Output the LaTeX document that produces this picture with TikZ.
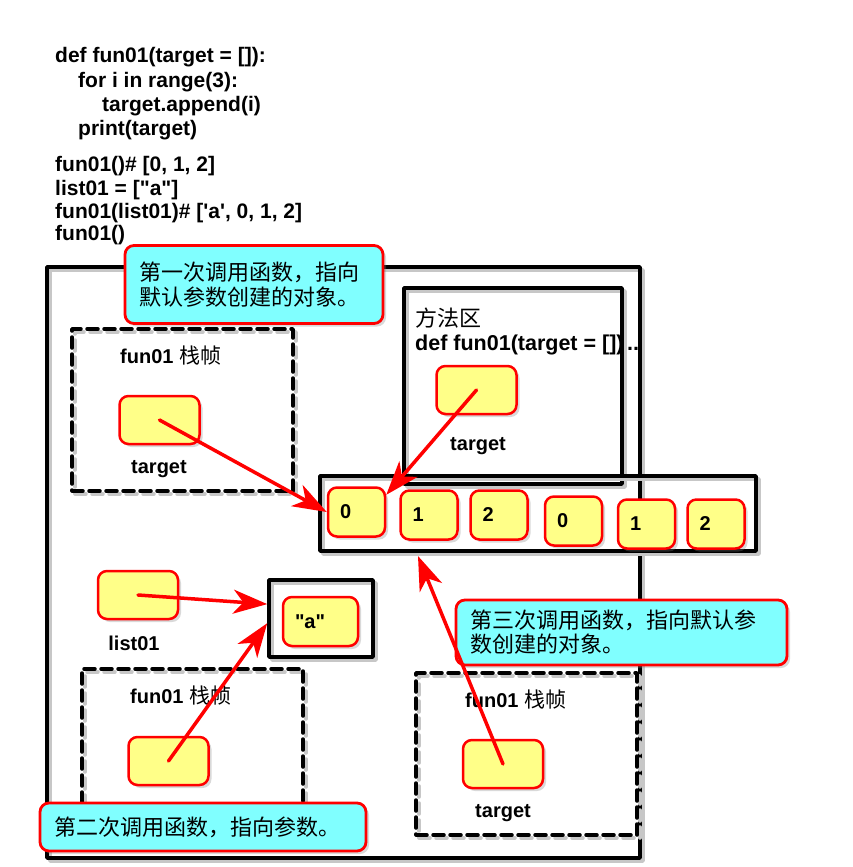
\documentclass[tikz,border=0pt]{standalone}
\usepackage{fontspec}
\newfontfamily\codefont{Liberation Sans}
\newfontfamily\cjk{Noto Sans CJK SC}
\usetikzlibrary{arrows.meta,shadows,calc}
\definecolor{varfill}{HTML}{FFFF88}
\definecolor{tipfill}{HTML}{80FFFF}
\tikzset{
  lineshadow/.style={preaction={draw=black!22, transform canvas={shift={(3pt,-3pt)}}}},
  memframe/.style={draw, line width=3.5pt, lineshadow},
  stackframe/.style={memframe, dash pattern=on 11pt off 6pt},
  varbox/.style={draw=red, line width=2.5pt, fill=varfill, rounded corners=9pt,
    minimum width=80pt, minimum height=48pt,
    drop shadow={shadow xshift=3pt, shadow yshift=-3pt, opacity=.3}},
  cellbox/.style={varbox, minimum width=57pt, minimum height=49pt, inner xsep=12pt,
    text width=33pt, align=left, font=\codefont\fontsize{20}{24}\selectfont\bfseries},
  tipbox/.style={draw=red, line width=2.8pt, fill=tipfill, rounded corners=9pt,
    align=left, inner xsep=14pt, inner ysep=0pt,
    drop shadow={shadow xshift=3pt, shadow yshift=-3pt, opacity=.3}},
  lbl/.style={font=\codefont\fontsize{20}{24}\selectfont\bfseries, inner sep=0pt},
  zh/.style={font=\cjk\fontsize{22}{25}\selectfont},
  ptr/.style={-{Stealth[length=34pt,width=24pt,inset=10pt]}, red, line width=3.5pt}
}
\newcommand\zhframe{{\cjk\mdseries\fontsize{21}{24}\selectfont 栈帧}}
\begin{document}
\begin{tikzpicture}[x=1pt, y=-1pt, line join=round, line cap=round]
  \useasboundingbox (0,0) rectangle (853,867);
  % the source code
  \foreach \t/\x/\y [count=\i] in {{def fun01(target = []):}/55/63, {for i in range(3):}/78/87,
      {target.append(i)}/102/111, {print(target)}/78/135, {fun01()\# [0, 1, 2]}/55/171,
      {list01 = ["a"]}/55/195, {fun01(list01)\# ['a', 0, 1, 2]}/55/218, {fun01()}/55/240}
    \node[lbl, font=\codefont\fontsize{21}{24}\selectfont\bfseries, anchor=base west] (code\i) at (\x,\y) {\t};
  % memory
  \node[memframe, minimum width=593pt, minimum height=591pt] (heap) at (343.5,562.5) {};
  \node[memframe, minimum width=218pt, minimum height=196pt] (method) at (513,386) {};
  \node[stackframe, minimum width=221pt, minimum height=162pt] (frame1) at (182.5,410) {};
  \node[stackframe, minimum width=221pt, minimum height=166pt] (frame2) at (192.5,752) {};
  \node[stackframe, minimum width=221pt, minimum height=162pt] (frame3) at (526.5,754) {};
  \node[memframe, minimum width=436pt, minimum height=75pt] (arr) at (538,513.5) {};
  \node[memframe, minimum width=104pt, minimum height=77pt] (abox) at (321,618.5) {};
  \foreach \v/\x/\y [count=\i] in {0/356.5/512, 1/429/515, 2/499/515, 0/573.5/521, 1/646.5/524, 2/716/524}
    \node[cellbox] (cell\i) at (\x,\y) {\v};
  \node[cellbox, minimum width=75pt, text width=51pt] (acell) at (320.5,621.5) {"a"};
  % variables
  \node[varbox] (mt) at (476.5,390) {};
  \node[varbox] (f1t) at (159.5,420) {};
  \node[varbox] (lst) at (138,595) {};
  \node[varbox] (f2t) at (168.5,761) {};
  \node[varbox] (f3t) at (503,764) {};
  \node[lbl] (mtname) at (478,446) {target};
  \node[lbl] (f1tname) at (159,469) {target};
  \node[lbl] (lstname) at (134,643) {list01};
  \node[lbl] (f3tname) at (503,813) {target};
  \node[lbl, anchor=west] (f1name) at (120,356) {fun01 \zhframe};
  \node[lbl, anchor=west] (f2name) at (130,696) {fun01 \zhframe};
  \node[lbl, anchor=west] (f3name) at (465,700) {fun01 \zhframe};
  \node[zh, inner sep=0pt, anchor=west] (mname) at (415,318) {方法区};
  \node[lbl, font=\codefont\fontsize{21.5}{24}\selectfont\bfseries, anchor=base west] (mdef) at (415,350) {def fun01(target = [])\,..};
  % notes
  \node[tipbox, zh, text width=230pt, minimum height=78pt] (tip1) at (254,284.5) {第一次调用函数，指向\\默认参数创建的对象。\\[-6pt]};
  \node[tipbox, zh, text width=298pt, minimum height=48pt] (tip2) at (203,827) {第二次调用函数，指向参数。};
  \node[tipbox, zh, font=\cjk\fontsize{22}{24}\selectfont, text width=303pt, minimum height=65pt] (tip3) at (621.5,632.5) {第三次调用函数，指向默认参\\数创建的对象。};
  % references
  \coordinate (arrbot) at (418,556);
  \draw[ptr] (f1t.center) -- (cell1.west);
  \draw[ptr] (mt.center) -- (cell1.30);
  \draw[ptr] (f3t.center) -- (arrbot);
  \draw[ptr] (lst.center) -- (abox.165);
  \draw[ptr] (f2t.center) -- (abox.185);
\end{tikzpicture}
\end{document}
